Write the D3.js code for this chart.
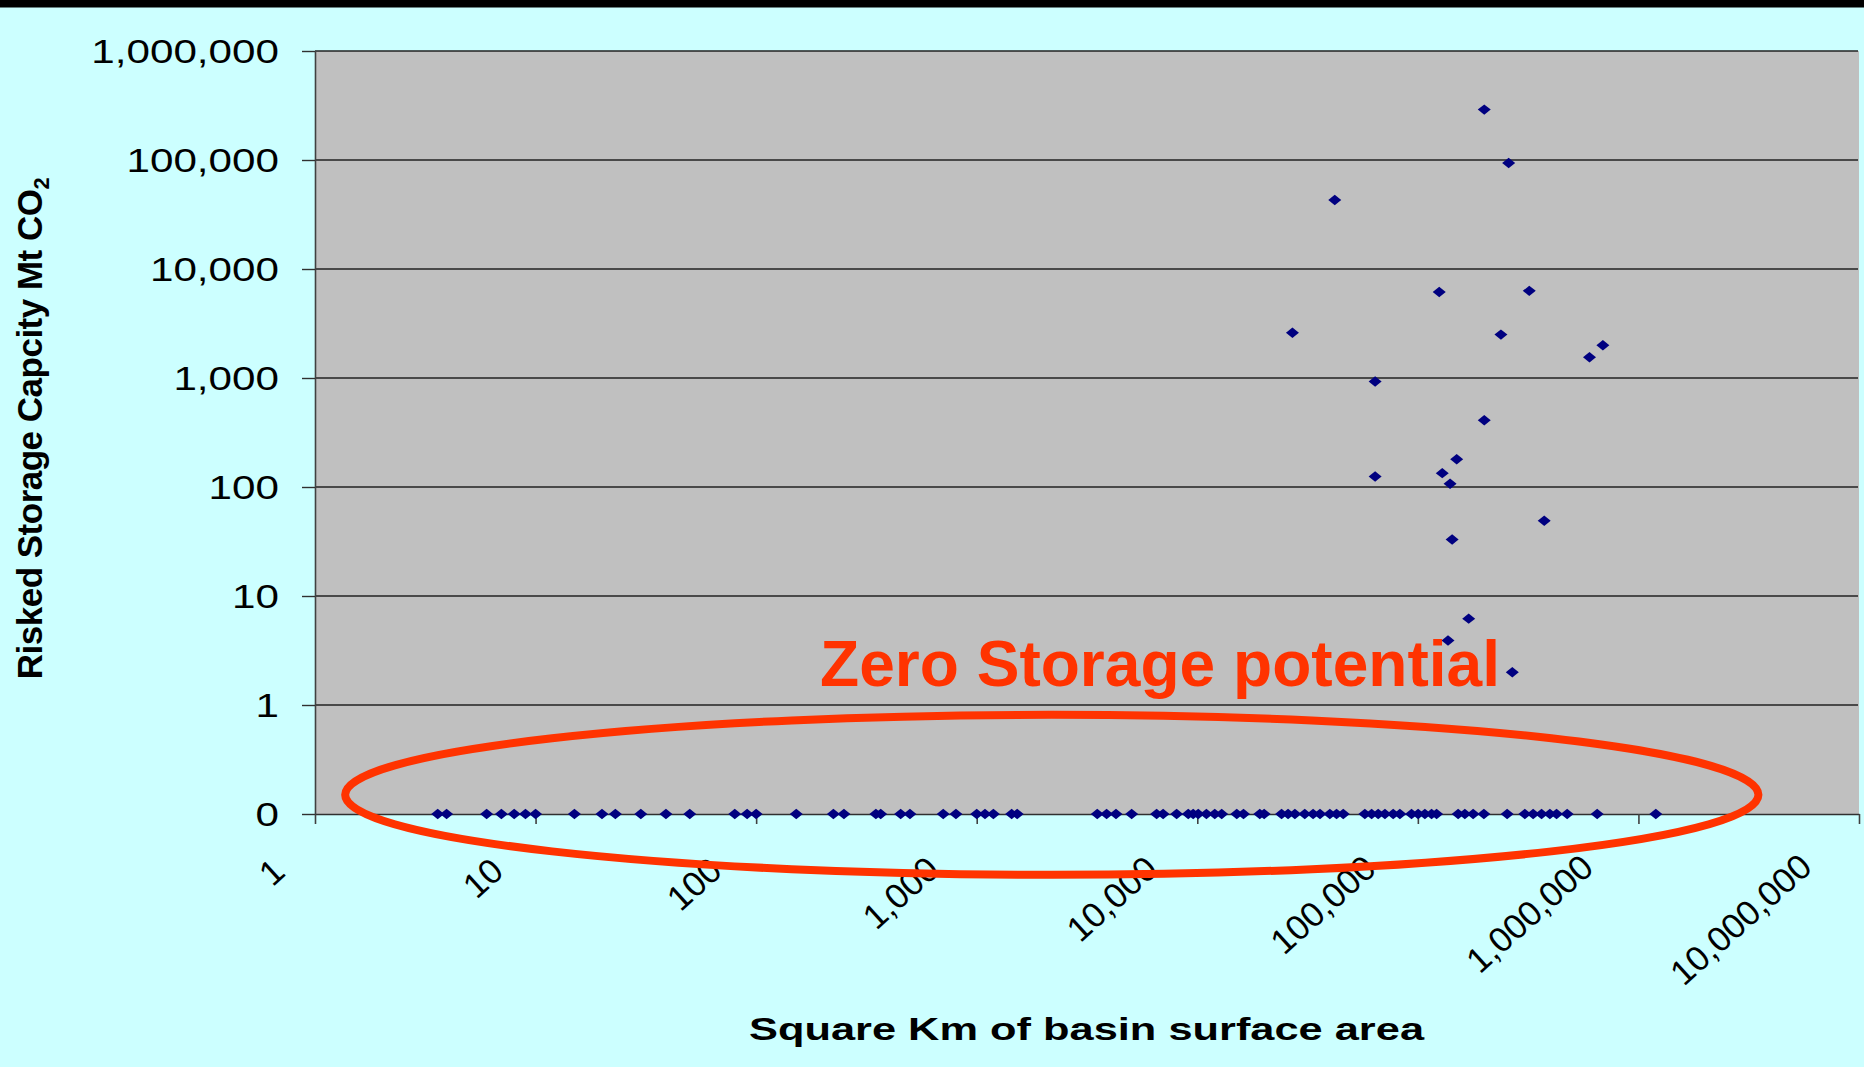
<!DOCTYPE html>
<html><head><meta charset="utf-8">
<script src="https://cdn.jsdelivr.net/npm/d3@7"></script>
<style>
body{margin:0;background:#CCFFFF;}
svg{display:block;font-family:"Liberation Sans",Arial,sans-serif;}
</style>
</head><body>
<svg id="chart" width="1864" height="1067"></svg>
<script>
// ---- data (basin area km², risked storage capacity Mt CO2) ----
const areaNonZero = [200000, 258000, 42000, 125000, 320000, 27000, 238000, 690000, 600000, 64000,
                     200000, 150000, 64000, 129000, 140000, 374000, 143000, 170000, 137000, 268000];
const capacityNonZero = [290000, 94000, 43000, 6150, 6300, 2600, 2500, 2000, 1550, 930,
                         410, 180, 125, 134, 107, 49, 33, 6.2, 3.9, 2.0];
const areaZero = [3.6, 3.95, 6, 7, 8, 9, 10, 15, 20, 23, 30, 39, 50, 80, 91, 100, 152, 224,
                  250, 349, 367, 452, 498, 705, 805, 1000, 1090, 1190, 1440, 1526,
                  3520, 3880, 4280, 5040, 6540, 7000, 8060, 9100, 9580, 10100, 11000, 12000, 12900,
                  15100, 16200, 19200, 20100, 24100, 25800, 27700, 30700, 33500, 36000, 39900, 42800, 45900,
                  57500, 61700, 66100, 70900, 77300, 82900, 93600, 100300, 107600, 115400, 121600,
                  152300, 163300, 178100, 199200, 254000, 305500, 333200, 363700, 396700, 425400, 475200,
                  650000, 1199000];
const capacityZero = areaZero.map(() => 0);

const xTickValues = [1, 10, 100, 1000, 10000, 100000, 1000000, 10000000];
const yTickValues = [0.1, 1, 10, 100, 1000, 10000, 100000, 1000000];
const yTickLabels = ["0", "1", "10", "100", "1,000", "10,000", "100,000", "1,000,000"];
const xTitle = "Square Km of basin surface area";
const yTitle = "Risked Storage Capcity Mt CO";
const annotationText = "Zero Storage potential";
const yFloor = 0.1; // zero values sit on the "0" line of the log axis

const points = areaNonZero.map((a, i) => ({x: a, y: capacityNonZero[i]}))
  .concat(areaZero.map((a, i) => ({x: a, y: capacityZero[i]})));

// ---- layout ----
const W = 1864, H = 1067;
const L = 315, R = 1859, T = 51, B = 814;
const sx = 1.26; // horizontal stretch of the y labels

const svg = d3.select("#chart");
const x = d3.scaleLog().domain([1, 1e7]).range([L, R]);
const y = d3.scaleLog().domain([yFloor, 1e6]).range([B, T]);

svg.append("rect").attr("width", W).attr("height", H).attr("fill", "#CCFFFF");
svg.append("rect").attr("width", W).attr("height", 7.5).attr("fill", "#000");

// plot area
svg.append("rect").attr("x", L).attr("y", T).attr("width", R - L).attr("height", B - T)
  .attr("fill", "#C0C0C0");

// gridlines
svg.append("g").selectAll("line").data(yTickValues.slice(1)).join("line")
  .attr("x1", L).attr("x2", R - 1).attr("y1", d => y(d)).attr("y2", d => y(d))
  .attr("stroke", "#222").attr("stroke-width", 1.5);

// y axis
const yAxis = svg.append("g").attr("transform", `translate(${L},0)`)
  .call(d3.axisLeft(y).tickValues(yTickValues).tickFormat((d, i) => yTickLabels[i])
    .tickSize(13).tickSizeOuter(0));
yAxis.select(".domain").attr("stroke", "#404040").attr("stroke-width", 1.6);
yAxis.selectAll(".tick line").attr("stroke", "#303030").attr("stroke-width", 1.4);
yAxis.selectAll(".tick text")
  .attr("x", null).attr("dy", "0.35em")
  .attr("transform", `translate(-36,0) scale(${sx},1)`)
  .attr("font-size", 33.5).attr("fill", "#000")
  .attr("font-family", '"Liberation Sans",Arial,sans-serif');

// x axis
const xAxis = svg.append("g").attr("transform", `translate(0,${B})`)
  .call(d3.axisBottom(x).tickValues(xTickValues).tickFormat(d3.format(","))
    .tickSize(10).tickSizeOuter(0));
xAxis.select(".domain").attr("stroke", "#303030").attr("stroke-width", 1.6);
xAxis.selectAll(".tick line").attr("stroke", "#404040").attr("stroke-width", 1.6);
xAxis.selectAll(".tick text")
  .attr("y", null).attr("dy", "0.35em")
  .attr("text-anchor", "end")
  .attr("font-size", 35).attr("fill", "#000")
  .attr("font-family", '"Liberation Sans",Arial,sans-serif')
  .attr("transform", function() {
    const len = this.getComputedTextLength();
    const dx = -34.5 - 0.11 * len;
    const dy = 52 - 0.03 * len;
    return `translate(${dx},${dy}) rotate(-42)`;
  });

// points
const diamond = "M0,-5.2L6.5,0L0,5.2L-6.5,0Z";
svg.append("g").selectAll("path").data(points).join("path")
  .attr("d", diamond)
  .attr("transform", d => `translate(${x(d.x)},${y(Math.max(d.y, yFloor))})`)
  .attr("fill", "#000080");

// annotation: ellipse around the zero-capacity basins
const ellLeft = x(1.37), ellRight = x(3.5e6);
svg.append("ellipse")
  .attr("cx", (ellLeft + ellRight) / 2).attr("cy", y(0.15))
  .attr("rx", (ellRight - ellLeft) / 2).attr("ry", 80)
  .attr("fill", "none").attr("stroke", "#FF3300").attr("stroke-width", 8);

svg.append("text").attr("x", 820).attr("y", 686)
  .attr("font-size", 64).attr("font-weight", "bold").attr("fill", "#FF3300")
  .attr("textLength", 680).attr("lengthAdjust", "spacingAndGlyphs")
  .text(annotationText);

// titles
svg.append("text").attr("x", 1086.5).attr("y", 1040).attr("text-anchor", "middle")
  .attr("font-size", 32).attr("font-weight", "bold").attr("fill", "#000")
  .attr("textLength", 675).attr("lengthAdjust", "spacingAndGlyphs")
  .text(xTitle);

const yt = svg.append("text").attr("transform", "translate(42,428.5) rotate(-90)")
  .attr("text-anchor", "middle").attr("font-size", 35).attr("font-weight", "bold")
  .attr("letter-spacing", -0.5).attr("fill", "#000");
yt.append("tspan").text(yTitle);
yt.append("tspan").attr("font-size", 22).attr("dy", 7).text("2");
</script>
</body></html>
